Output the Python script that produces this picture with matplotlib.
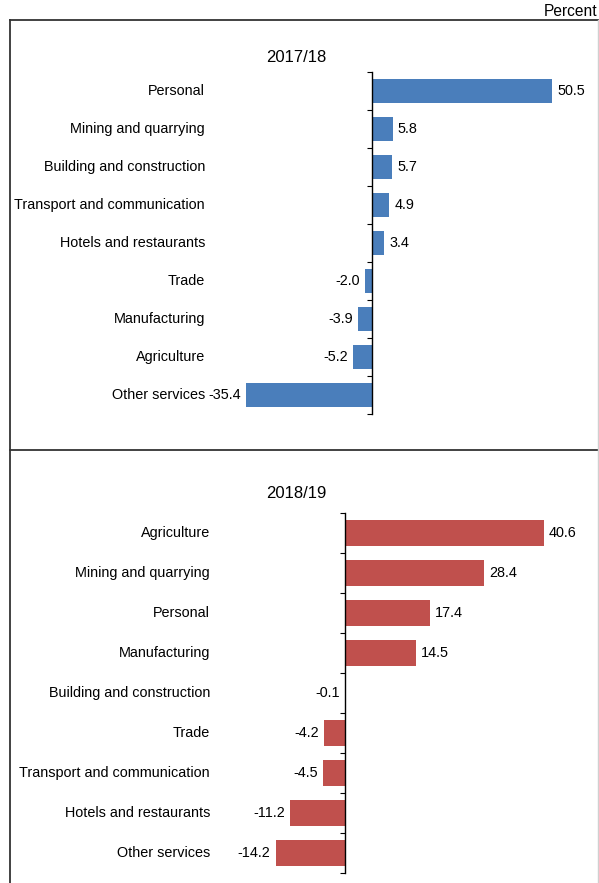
import matplotlib.pyplot as plt
import matplotlib.transforms as mtrans
from matplotlib.lines import Line2D

plt.rcParams['font.family'] = ['Liberation Sans', 'DejaVu Sans']

# 2017/18 panel
cats_1718 = ['Personal', 'Mining and quarrying', 'Building and construction',
             'Transport and communication', 'Hotels and restaurants', 'Trade',
             'Manufacturing', 'Agriculture', 'Other services']
vals_1718 = [50.5, 5.8, 5.7, 4.9, 3.4, -2.0, -3.9, -5.2, -35.4]

# 2018/19 panel
cats_1819 = ['Agriculture', 'Mining and quarrying', 'Personal', 'Manufacturing',
             'Building and construction', 'Trade', 'Transport and communication',
             'Hotels and restaurants', 'Other services']
vals_1819 = [40.6, 28.4, 17.4, 14.5, -0.1, -4.2, -4.5, -11.2, -14.2]

W, H = 599, 883
FS = 10.4

fig = plt.figure(figsize=(W / 100, H / 100), dpi=100)


def draw(cats, vals, color, title, zero_px, scale, top_px, bot_px, left_px,
         right_px, label_px, title_px, bar_h):
    # axes placed in pixel terms so the layout matches the reference
    ax = fig.add_axes([left_px / W, 1 - bot_px / H,
                       (right_px - left_px) / W, (bot_px - top_px) / H])
    ax.set_xlim(-(zero_px - left_px) / scale, (right_px - zero_px) / scale)
    n = len(cats)
    ax.set_ylim(n - 0.5, -0.5)
    ax.barh(range(n), vals, height=bar_h, color=color, edgecolor='none')
    for s in ['top', 'right', 'bottom']:
        ax.spines[s].set_visible(False)
    ax.spines['left'].set_position(('data', 0))
    ax.spines['left'].set_linewidth(1.0)
    ax.set_xticks([])
    ax.set_yticks([i - 0.5 for i in range(n + 1)])
    ax.set_yticklabels([])
    ax.tick_params(axis='y', direction='out', length=3.5, width=0.8)
    ax.patch.set_alpha(0)
    off = 5 / scale
    tr = mtrans.blended_transform_factory(fig.transFigure, ax.transData)
    for i, v in enumerate(vals):
        if v >= 0:
            ax.text(v + off, i, f'{v:.1f}', ha='left', va='center', fontsize=FS)
        else:
            ax.text(v - off, i, f'{v:.1f}', ha='right', va='center', fontsize=FS)
        ax.text(label_px / W, i, cats[i], ha='right', va='center', fontsize=FS,
                transform=tr, clip_on=False)
    fig.text(296 / W, 1 - title_px / H, title, ha='center', va='center',
             fontsize=12)
    return ax


draw(cats_1718, vals_1718, '#4a7ebb', '2017/18', zero_px=372, scale=3.564,
     top_px=72, bot_px=414, left_px=230, right_px=570, label_px=205,
     title_px=57, bar_h=0.63)
draw(cats_1819, vals_1819, '#c0504d', '2018/19', zero_px=345, scale=4.89,
     top_px=513, bot_px=873, left_px=230, right_px=570, label_px=210,
     title_px=494, bar_h=0.66)


# frame around the panels
def fline(x0, y0, x1, y1, color='#333333', lw=1.3):
    fig.add_artist(Line2D([x0 / W, x1 / W], [1 - y0 / H, 1 - y1 / H],
                          transform=fig.transFigure, color=color, lw=lw))


fline(10, 20, 599, 20)
fline(10, 20, 10, 883)
fline(10, 450, 599, 450)
fline(598, 20, 598, 883, color='#d0d0d0', lw=1.0)

fig.text(597 / W, 1 - 12 / H, 'Percent', ha='right', va='center', fontsize=11.2)

fig.savefig('out.png', dpi=100)
